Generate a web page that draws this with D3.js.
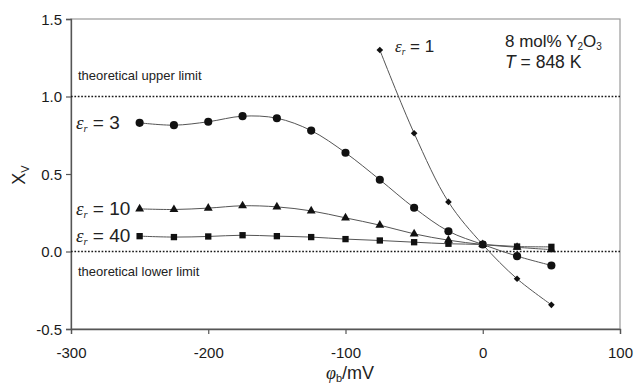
<!DOCTYPE html>
<html>
<head>
<meta charset="utf-8">
<script src="https://cdn.jsdelivr.net/npm/d3@7"></script>
<style>
  html, body { margin: 0; padding: 0; background: #fff; }
  svg { display: block; font-family: "Liberation Sans", Arial, sans-serif; }
</style>
</head>
<body>
<svg id="chart" width="634" height="385"></svg>
<script>
// Bulk potential (mV) at which each fraction was computed
const phi = [-250, -225, -200, -175, -150, -125, -100, -75, -50, -25, 0, 25, 50];
const phiEps1 = [-75, -50, -25, 0, 25, 50];

// Vacancy fraction x_V for each relative permittivity
const xvEps1  = [1.30, 0.763, 0.32, 0.045, -0.176, -0.344];
const xvEps3  = [0.83, 0.815, 0.837, 0.873, 0.86, 0.78, 0.637, 0.463, 0.282, 0.131, 0.045, -0.03, -0.09];
const xvEps10 = [0.275, 0.271, 0.28, 0.295, 0.288, 0.262, 0.217, 0.17, 0.114, 0.073, 0.045, 0.027, 0.012];
const xvEps40 = [0.099, 0.093, 0.097, 0.105, 0.099, 0.093, 0.08, 0.071, 0.06, 0.05, 0.045, 0.032, 0.03];

const xTicks = [-300, -200, -100, 0, 100];
const yTicks = [-0.5, 0.0, 0.5, 1.0, 1.5];
const limits = [1.0, 0.0];

const svg = d3.select("#chart");
const x = d3.scaleLinear().domain([-300, 100]).range([71, 620]);
const y = d3.scaleLinear().domain([-0.5, 1.5]).range([329, 19]);

// tick labels use a plain hyphen for negatives
const fmtX = d => String(d);
const fmtY = d => d.toFixed(1);

// plot frame
svg.append("rect")
  .attr("x", x(-300)).attr("y", y(1.5))
  .attr("width", x(100) - x(-300)).attr("height", y(-0.5) - y(1.5))
  .attr("fill", "none").attr("stroke", "#9a9a9a").attr("stroke-width", 1.2);

// axes
const xAxis = svg.append("g").attr("transform", `translate(0,${y(-0.5)})`)
  .call(d3.axisBottom(x).tickValues(xTicks).tickSize(5).tickPadding(8).tickFormat(fmtX));
const yAxis = svg.append("g").attr("transform", `translate(${x(-300)},0)`)
  .call(d3.axisLeft(y).tickValues(yTicks).tickSize(5).tickPadding(4).tickFormat(fmtY));
[xAxis, yAxis].forEach(g => {
  g.select(".domain").attr("stroke", "#555").attr("stroke-width", 1.3);
  g.selectAll(".tick line").attr("stroke", "#555").attr("stroke-width", 1.2);
  g.selectAll(".tick text").attr("fill", "#1a1a1a").attr("font-size", 15)
    .attr("font-family", "Liberation Sans, Arial, sans-serif");
});
xAxis.selectAll(".tick text").attr("dy", null).attr("y", 29);
yAxis.selectAll(".tick text").attr("dy", "0.36em");

// theoretical limits
svg.selectAll("line.limit").data(limits).join("line")
  .attr("class", "limit")
  .attr("x1", x(-300)).attr("x2", x(100))
  .attr("y1", d => y(d)).attr("y2", d => y(d))
  .attr("stroke", "#1a1a1a").attr("stroke-width", 1.7).attr("stroke-dasharray", "1.7,1.7");

svg.append("text").attr("x", 78).attr("y", y(1.0) - 17)
  .attr("font-size", 13).attr("fill", "#222").text("theoretical upper limit");
svg.append("text").attr("x", 78).attr("y", y(0.0) + 24)
  .attr("font-size", 13).attr("fill", "#222").text("theoretical lower limit");

// series
const curve = d3.curveCatmullRom.alpha(0.5);
const series = [
  { xs: phiEps1, ys: xvEps1, marker: "diamond" },
  { xs: phi, ys: xvEps3, marker: "circle" },
  { xs: phi, ys: xvEps10, marker: "triangle" },
  { xs: phi, ys: xvEps40, marker: "square" }
];
const line = d3.line().x(d => x(d[0])).y(d => y(d[1])).curve(curve);

const symbols = {
  diamond: d3.symbol().type(d3.symbolSquare).size(22),
  circle: d3.symbol().type(d3.symbolCircle).size(52),
  triangle: d3.symbol().type(d3.symbolTriangle).size(34),
  square: d3.symbol().type(d3.symbolSquare).size(40)
};

series.forEach(s => {
  const pts = s.xs.map((v, i) => [v, s.ys[i]]);
  svg.append("path").datum(pts)
    .attr("d", line).attr("fill", "none")
    .attr("stroke", "#555").attr("stroke-width", 1);
  svg.append("g").selectAll("path").data(pts).join("path")
    .attr("d", symbols[s.marker]())
    .attr("transform", d => `translate(${x(d[0])},${y(d[1])})` + (s.marker === "diamond" ? " rotate(45)" : ""))
    .attr("fill", "#111");
});

// series labels: epsilon_r = value
function epsLabel(px, py, value, size) {
  const t = svg.append("text").attr("x", px).attr("y", py)
    .attr("font-size", size).attr("fill", "#222");
  t.append("tspan").attr("font-family", "Liberation Serif, serif")
    .attr("font-style", "italic").text("ε");
  t.append("tspan").attr("font-family", "Liberation Serif, serif")
    .attr("font-style", "italic").attr("font-size", size * 0.55).attr("dy", 3).text("r");
  t.append("tspan").attr("dy", -3).text(" = " + value);
}
epsLabel(76, y(0.83) + 6, "3", 19);
epsLabel(76, y(0.275) + 6, "10", 19);
epsLabel(76, y(0.099) + 6, "40", 19);
epsLabel(395, 52, "1", 17);

// composition and temperature
const info = svg.append("text").attr("x", 505).attr("y", 47).attr("font-size", 17).attr("fill", "#222");
info.append("tspan").text("8 mol% Y");
info.append("tspan").attr("font-size", 10).attr("dy", 3).text("2");
info.append("tspan").attr("dy", -3).text("O");
info.append("tspan").attr("font-size", 10).attr("dy", 3).text("3");
const temp = svg.append("text").attr("x", 505).attr("y", 68).attr("font-size", 17.5).attr("fill", "#222");
temp.append("tspan").attr("font-style", "italic").text("T");
temp.append("tspan").text(" = 848 K");

// axis titles
const xt = svg.append("text").attr("x", 350).attr("y", 379)
  .attr("text-anchor", "middle").attr("font-size", 18).attr("fill", "#222");
xt.append("tspan").attr("font-family", "Liberation Serif, serif").attr("font-style", "italic").text("φ");
xt.append("tspan").attr("font-size", 11).attr("dy", 3).text("b");
xt.append("tspan").attr("dy", -3).text("/mV");

const yt = svg.append("text").attr("transform", "translate(25,175) rotate(-90)")
  .attr("text-anchor", "middle").attr("font-size", 18).attr("fill", "#222");
yt.append("tspan").text("X");
yt.append("tspan").attr("font-size", 11).attr("dy", 4).text("V");
</script>
</body>
</html>
